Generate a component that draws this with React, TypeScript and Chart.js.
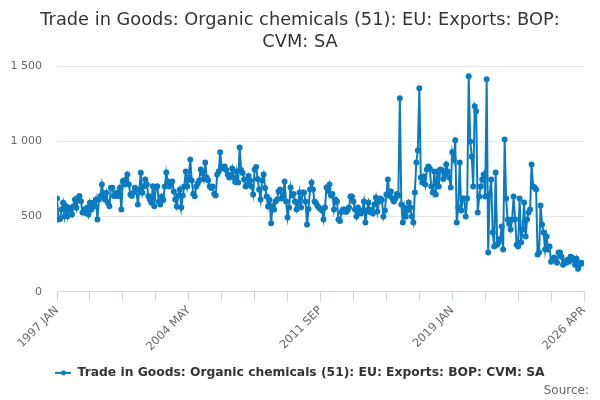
import React, { useRef, useEffect } from 'react';
import { Chart, registerables } from 'chart.js';

Chart.register(...registerables);

const startYear = 1997;
const monthNames = ['JAN', 'FEB', 'MAR', 'APR', 'MAY', 'JUN', 'JUL', 'AUG', 'SEP', 'OCT', 'NOV', 'DEC'];
const tickLabels = ['1997 JAN', '2004 MAY', '2011 SEP', '2019 JAN', '2026 APR'];
const yTicks = [0, 500, 1000, 1500];
const seriesName = 'Trade in Goods: Organic chemicals (51): EU: Exports: BOP: CVM: SA';
const titleLines = ['Trade in Goods: Organic chemicals (51): EU: Exports: BOP:', 'CVM: SA'];
const sourceText = 'Source:';

// monthly values, 1997 JAN - 2005 DEC
const values1997to2005 = [
  620, 480, 484, 547, 591, 502, 569, 502, 558, 547, 513, 569,
  613, 558, 624, 636, 602, 527, 547, 524, 558, 513, 591, 547,
  591, 569, 613, 480, 613, 636, 713, 647, 613, 658, 591, 569,
  691, 691, 636, 636, 658, 636, 691, 547, 736, 713, 747, 780,
  713, 647, 636, 658, 691, 680, 580, 680, 791, 658, 702, 747,
  713, 636, 613, 591, 702, 569, 691, 702, 600, 580, 633, 610,
  700, 793, 733, 700, 720, 733, 667, 613, 567, 640, 680, 560,
  640, 700, 800, 700, 760, 880, 740, 650, 635, 700, 720, 740,
  813, 790, 750, 860, 760, 740, 700, 690, 700, 650, 640, 780,
];

// 2006 JAN - 2015 DEC
const values2006to2015 = [
  800, 927, 830, 820, 833, 810, 780, 760, 770, 820, 760, 730,
  800, 727, 960, 810, 790, 747, 700, 710, 770, 740, 700, 647,
  813, 830, 750, 680, 613, 740, 780, 690, 633, 567, 610, 455,
  570, 547, 600, 613, 667, 680, 620, 640, 733, 600, 493, 560,
  693, 640, 650, 600, 547, 590, 660, 560, 660, 660, 600, 447,
  550, 680, 727, 680, 600, 590, 570, 560, 550, 540, 480, 560,
  693, 670, 713, 640, 650, 547, 613, 600, 480, 470, 530, 547,
  547, 530, 540, 560, 633, 633, 600, 547, 500, 560, 540, 520,
  540, 600, 460, 540, 593, 530, 545, 520, 580, 627, 533, 600,
  620, 610, 500, 540, 647, 747, 640, 667, 620, 600, 620, 650,
];

// 2016 JAN - 2026 APR
const values2016to2026 = [
  640, 1287, 580, 460, 560, 500, 540, 593, 560, 500, 460, 660,
  860, 940, 1353, 760, 727, 767, 713, 813, 833, 820, 700, 660,
  800, 647, 800, 700, 813, 810, 750, 780, 847, 800, 760, 693,
  927, 880, 1007, 460, 560, 860, 540, 620, 620, 500, 620, 1433,
  1000, 900, 700, 1233, 1200, 527, 633, 700, 747, 780, 633, 1413,
  260, 650, 747, 393, 300, 793, 313, 327, 350, 433, 280, 1013,
  620, 480, 450, 413, 480, 633, 480, 313, 300, 620, 327, 413,
  593, 367, 480, 527, 547, 847, 700, 693, 680, 247, 260, 573,
  447, 393, 280, 367, 280, 300, 200, 213, 227, 213, 193, 260,
  260, 233, 180, 200, 193, 213, 200, 233, 227, 213, 180, 220,
  153, 180, 193, 190,
];

const values = [...values1997to2005, ...values2006to2015, ...values2016to2026];
const labels = values.map((_, i) => `${startYear + Math.floor(i / 12)} ${monthNames[i % 12]}`);

const lineColor = '#0b7bc1';

// line with a dot, as in the legend of the original
function legendSymbol() {
  const c = document.createElement('canvas');
  c.width = 16;
  c.height = 8;
  const g = c.getContext('2d');
  if (g) {
    g.strokeStyle = lineColor;
    g.lineWidth = 2;
    g.beginPath();
    g.moveTo(0, 4);
    g.lineTo(16, 4);
    g.stroke();
    g.fillStyle = lineColor;
    g.beginPath();
    g.arc(8, 4, 2.5, 0, Math.PI * 2);
    g.fill();
  }
  return c;
}

const spaced = (v: number) => String(v).replace(/\B(?=(\d{3})+(?!\d))/g, ' ');

const sourcePlugin = {
  id: 'sourceText',
  afterDraw(chart: Chart) {
    const { ctx, width, height } = chart;
    ctx.save();
    ctx.font = "12px 'DejaVu Sans', sans-serif";
    ctx.fillStyle = '#666666';
    ctx.textAlign = 'right';
    ctx.textBaseline = 'middle';
    ctx.fillText(sourceText, width - 11, height - 9);
    ctx.restore();
  },
};

const App = () => {
  const chartRef = useRef<HTMLCanvasElement>(null);

  useEffect(() => {
    const ctx = chartRef.current?.getContext('2d');
    if (!ctx) return;
    Chart.defaults.font.family = "'DejaVu Sans', sans-serif";
    const symbol = legendSymbol();

    const chart = new Chart(ctx, {
      type: 'line',
      data: {
        labels,
        datasets: [
          {
            label: seriesName,
            data: values.map((v, i) => ({ x: i, y: v })),
            borderColor: lineColor,
            backgroundColor: lineColor,
            borderWidth: 2,
            pointRadius: 2,
            pointHoverRadius: 3,
            pointStyle: 'circle',
            tension: 0,
          },
        ],
      },
      options: {
        animation: false,
        responsive: true,
        maintainAspectRatio: false,
        layout: { padding: { left: 8, right: 8, top: 0, bottom: 11 } },
        plugins: {
          title: {
            display: true,
            text: titleLines,
            color: '#333333',
            font: { size: 17.8, weight: 'normal' },
            padding: { top: 10, bottom: 13.5 },
          },
          legend: {
            position: 'bottom',
            labels: {
              color: '#333333',
              font: { size: 12.3, weight: 'bold' },
              usePointStyle: true,
              pointStyleWidth: 16,
              padding: 2,
              generateLabels: (c: Chart) => {
                const items = Chart.defaults.plugins.legend.labels.generateLabels(c);
                return items.map((it) => ({ ...it, pointStyle: symbol as any }));
              },
            },
          },
          tooltip: { enabled: false },
        },
        scales: {
          x: {
            type: 'linear',
            min: 0,
            max: 352,
            afterFit: (s: any) => {
              s.height = 73;
            },
            grid: {
              drawOnChartArea: false,
              drawTicks: true,
              tickLength: 10,
              color: '#ccd6eb',
            },
            border: { color: '#ccd6eb' },
            ticks: {
              stepSize: 22,
              autoSkip: false,
              maxRotation: 45,
              minRotation: 45,
              padding: 2,
              color: '#666666',
              font: { size: 11.5 },
              callback: (v: any) => (Number(v) % 88 === 0 ? tickLabels[Number(v) / 88] : ''),
            },
          },
          y: {
            min: 0,
            max: 1500,
            afterFit: (s: any) => {
              s.width = 49;
            },
            afterBuildTicks: (s: any) => {
              s.ticks = yTicks.map((v) => ({ value: v }));
            },
            grid: { color: '#e6e6e6', drawTicks: false },
            border: { display: false },
            ticks: {
              padding: 15,
              color: '#666666',
              font: { size: 11 },
              callback: (v: any) => spaced(Number(v)),
            },
          },
          // empty right-hand gutter so the plot ends where the original does
          gutter: {
            type: 'linear',
            position: 'right',
            display: true,
            afterFit: (s: any) => {
              s.width = 8;
            },
            grid: { display: false, drawTicks: false },
            border: { display: false },
            ticks: { display: false },
          },
        },
      },
      plugins: [sourcePlugin],
    });

    return () => {
      chart.destroy();
    };
  }, []);

  return (
    <div style={{ position: 'absolute', left: 0, top: 0, width: 600, height: 400, background: '#fff' }}>
      <canvas ref={chartRef} />
    </div>
  );
};

export default App;
